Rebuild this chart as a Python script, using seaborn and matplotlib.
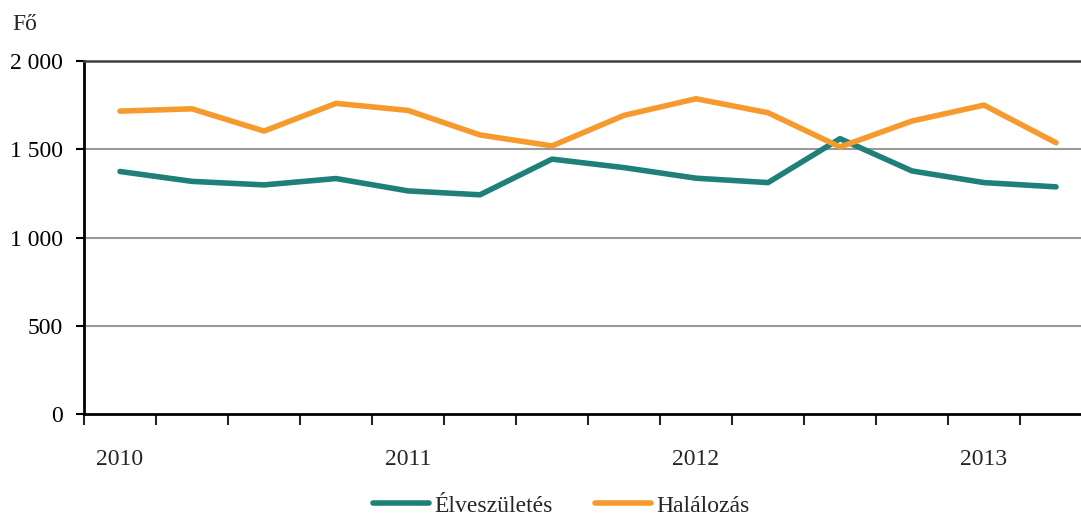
import pandas as pd
import matplotlib.pyplot as plt
import seaborn as sns

# Quarterly data, 2010 Q1 - 2013 Q2
quarters = ['2010 Q1', '2010 Q2', '2010 Q3', '2010 Q4',
            '2011 Q1', '2011 Q2', '2011 Q3', '2011 Q4',
            '2012 Q1', '2012 Q2', '2012 Q3', '2012 Q4',
            '2013 Q1', '2013 Q2']
births = [1374, 1318, 1298, 1334, 1264, 1242, 1444, 1396, 1336, 1311, 1560, 1377, 1311, 1287]
deaths = [1716, 1729, 1603, 1760, 1720, 1581, 1519, 1692, 1786, 1707, 1513, 1660, 1750, 1537]
series_names = ['Élveszületés', 'Halálozás']
year_labels = ['2010', '2011', '2012', '2013']
y_ticks = [0, 500, 1000, 1500, 2000]
y_tick_labels = ['0', '500', '1 000', '1 500', '2 000']

colors = {'Élveszületés': '#1f7f79', 'Halálozás': '#f79a2e'}

# Long-form table
n = len(quarters)
df = pd.DataFrame({
    'idx': list(range(n)) * 2,
    'value': births + deaths,
    'series': [series_names[0]] * n + [series_names[1]] * n,
})

sns.set_style('white')
plt.rcParams['font.family'] = ['Liberation Serif', 'DejaVu Serif']
fs = 17

fig = plt.figure(figsize=(10.81, 5.17), dpi=100)
ax = fig.add_axes([84 / 1081, 1 - 414 / 517, 1 - 84 / 1081, (414 - 61) / 517])

sns.lineplot(data=df, x='idx', y='value', hue='series', palette=colors,
             linewidth=4.0, ax=ax, legend=False)
for line in ax.lines:
    line.set_solid_capstyle('round')
    line.set_solid_joinstyle('round')

ax.set_ylim(0, 2000)
ax.set_xlim(-0.5, -0.5 + (1081 - 84) / 72)

# horizontal gridlines
for v in [500, 1000, 1500]:
    ax.axhline(v, color='#999999', linewidth=1.5, zorder=0)

ax.set_yticks(y_ticks)
ax.set_yticklabels(y_tick_labels)
ax.tick_params(axis='y', length=6, width=1.5, direction='out', pad=9,
               labelsize=fs, colors='black', left=True)

# x: ticks between quarters, year labels under Q1
ax.set_xticks([i - 0.5 for i in range(n)])
ax.set_xticklabels([])
ax.set_xticks([0, 4, 8, 12], minor=True)
ax.set_xticklabels(year_labels, minor=True)
ax.tick_params(axis='x', which='major', length=8, width=1.5, direction='out', bottom=True)
ax.tick_params(axis='x', which='minor', length=0, pad=25, labelsize=fs)

ax.set_xlabel('')
ax.set_ylabel('')

for side in ['left', 'bottom']:
    ax.spines[side].set_color('black')
    ax.spines[side].set_linewidth(2)
ax.spines['top'].set_color('#404040')
ax.spines['top'].set_linewidth(1.8)
ax.spines['right'].set_visible(False)

fig.text(12 / 1081, 1 - 25 / 517, 'Fő', fontsize=fs, va='center', ha='left')

handles = [plt.Line2D([], [], color=colors[s], linewidth=4.0, solid_capstyle='round')
           for s in series_names]
fig.legend(handles, series_names, loc='center', bbox_to_anchor=(561 / 1081, 1 - 506 / 517),
           ncol=2, frameon=False, fontsize=fs, handlelength=2.4, handletextpad=0.2,
           columnspacing=1.8, borderaxespad=0)

fig.savefig('out.png', dpi=100)
